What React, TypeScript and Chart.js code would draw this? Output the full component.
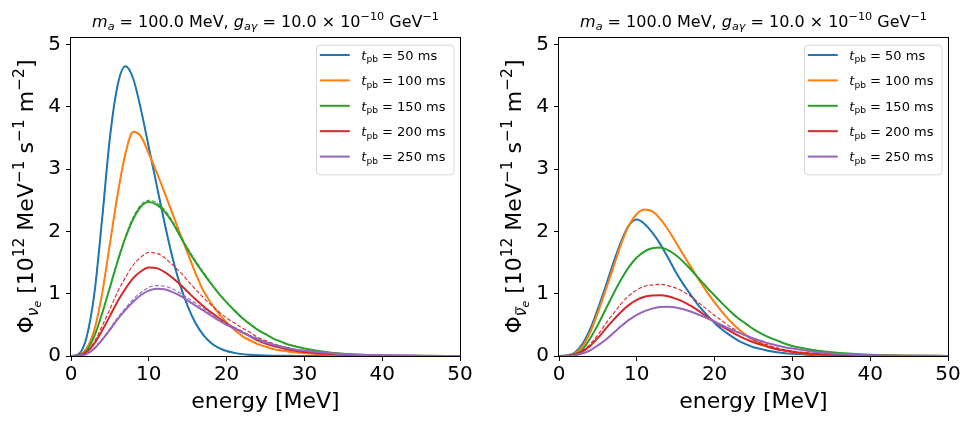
import React, { useEffect, useRef } from 'react';
import { Chart, registerables } from 'chart.js';

Chart.register(...registerables);

// Neutrino energy grid [MeV]
const energy = [0, 1, 2, 3, 4, 5, 6, 7, 8, 9, 10, 11, 12, 13, 14, 15, 16, 17, 18, 19, 20, 21, 22, 23, 24, 25, 26, 27, 28, 29, 30, 32, 35, 40, 45, 50];

// Post-bounce times [ms]
const postBounceTimes = [50, 100, 150, 200, 250];
const seriesColors = ['#1f77b4', '#ff7f0e', '#2ca02c', '#d62728', '#9467bd'];

// nu_e fluxes [1e12 MeV^-1 s^-1 m^-2], solid = with axion, dashed = reference
const nue50 = [0, 0.03, 0.3, 1.0, 2.2, 3.5, 4.35, 4.65, 4.45, 3.95, 3.35, 2.75, 2.15, 1.6, 1.15, 0.8, 0.53, 0.34, 0.21, 0.13, 0.08, 0.05, 0.03, 0.02, 0.013, 0.009, 0.006, 0.004, 0.003, 0.002, 0.001, 0.0005, 0, 0, 0, 0];
const nue100 = [0, 0.01, 0.12, 0.42, 1.0, 1.8, 2.6, 3.25, 3.6, 3.52, 3.25, 2.95, 2.63, 2.3, 1.97, 1.65, 1.33, 1.05, 0.85, 0.68, 0.54, 0.42, 0.32, 0.25, 0.19, 0.15, 0.11, 0.09, 0.07, 0.055, 0.045, 0.028, 0.013, 0.004, 0.001, 0];
const nue150 = [0, 0.01, 0.09, 0.32, 0.68, 1.1, 1.52, 1.9, 2.2, 2.4, 2.47, 2.43, 2.32, 2.15, 1.93, 1.71, 1.51, 1.33, 1.16, 1.0, 0.86, 0.73, 0.61, 0.51, 0.42, 0.35, 0.28, 0.23, 0.18, 0.15, 0.12, 0.075, 0.035, 0.01, 0.003, 0.001];
const nue150Ref = [0, 0.01, 0.09, 0.32, 0.69, 1.11, 1.54, 1.92, 2.23, 2.43, 2.5, 2.46, 2.35, 2.17, 1.95, 1.73, 1.53, 1.35, 1.17, 1.01, 0.87, 0.74, 0.62, 0.52, 0.43, 0.35, 0.28, 0.23, 0.18, 0.15, 0.12, 0.076, 0.035, 0.01, 0.003, 0.001];
const nue200 = [0, 0.01, 0.06, 0.2, 0.41, 0.64, 0.88, 1.08, 1.25, 1.36, 1.42, 1.41, 1.35, 1.26, 1.15, 1.03, 0.91, 0.8, 0.7, 0.61, 0.52, 0.45, 0.38, 0.32, 0.25, 0.2, 0.16, 0.13, 0.1, 0.08, 0.065, 0.04, 0.02, 0.006, 0.002, 0.001];
const nue200Ref = [0, 0.012, 0.07, 0.23, 0.48, 0.75, 1.03, 1.26, 1.46, 1.59, 1.66, 1.65, 1.58, 1.47, 1.35, 1.21, 1.07, 0.94, 0.82, 0.71, 0.61, 0.53, 0.45, 0.38, 0.3, 0.25, 0.2, 0.16, 0.13, 0.1, 0.08, 0.05, 0.025, 0.008, 0.002, 0.001];
const nue250 = [0, 0.005, 0.03, 0.12, 0.26, 0.42, 0.59, 0.74, 0.87, 0.98, 1.05, 1.08, 1.07, 1.03, 0.97, 0.89, 0.81, 0.73, 0.65, 0.57, 0.5, 0.44, 0.38, 0.32, 0.27, 0.22, 0.18, 0.15, 0.12, 0.1, 0.085, 0.06, 0.03, 0.012, 0.004, 0.001];
const nue250Ref = [0, 0.005, 0.03, 0.13, 0.27, 0.44, 0.62, 0.77, 0.91, 1.02, 1.1, 1.13, 1.12, 1.08, 1.01, 0.93, 0.85, 0.76, 0.68, 0.6, 0.52, 0.46, 0.4, 0.33, 0.28, 0.23, 0.19, 0.16, 0.13, 0.1, 0.09, 0.06, 0.03, 0.012, 0.004, 0.001];

// anti-nu_e fluxes
const nuebar50 = [0, 0.01, 0.05, 0.19, 0.43, 0.76, 1.12, 1.5, 1.84, 2.1, 2.19, 2.12, 1.98, 1.8, 1.58, 1.35, 1.15, 0.97, 0.8, 0.66, 0.53, 0.42, 0.33, 0.25, 0.19, 0.14, 0.11, 0.08, 0.06, 0.045, 0.035, 0.02, 0.009, 0.002, 0.0005, 0];
const nuebar100 = [0, 0.005, 0.04, 0.15, 0.38, 0.7, 1.06, 1.43, 1.8, 2.1, 2.28, 2.35, 2.32, 2.2, 2.03, 1.83, 1.62, 1.42, 1.22, 1.03, 0.86, 0.7, 0.56, 0.44, 0.34, 0.26, 0.2, 0.15, 0.11, 0.085, 0.065, 0.035, 0.015, 0.004, 0.001, 0];
const nuebar150 = [0, 0.005, 0.03, 0.1, 0.28, 0.5, 0.75, 1.0, 1.23, 1.43, 1.58, 1.68, 1.73, 1.74, 1.7, 1.62, 1.51, 1.38, 1.24, 1.1, 0.97, 0.84, 0.72, 0.61, 0.52, 0.43, 0.36, 0.3, 0.25, 0.2, 0.16, 0.11, 0.06, 0.02, 0.007, 0.002];
const nuebar200 = [0, 0.003, 0.02, 0.07, 0.16, 0.29, 0.44, 0.58, 0.71, 0.82, 0.9, 0.95, 0.97, 0.975, 0.96, 0.92, 0.87, 0.8, 0.72, 0.63, 0.55, 0.47, 0.4, 0.33, 0.27, 0.22, 0.18, 0.14, 0.11, 0.09, 0.07, 0.04, 0.02, 0.006, 0.002, 0];
const nuebar200Ref = [0, 0.004, 0.025, 0.085, 0.19, 0.34, 0.52, 0.68, 0.84, 0.97, 1.06, 1.12, 1.14, 1.15, 1.13, 1.09, 1.03, 0.95, 0.85, 0.75, 0.65, 0.56, 0.47, 0.39, 0.32, 0.26, 0.21, 0.17, 0.13, 0.1, 0.08, 0.05, 0.024, 0.007, 0.002, 0];
const nuebar250 = [0, 0.002, 0.01, 0.04, 0.09, 0.17, 0.26, 0.37, 0.48, 0.58, 0.66, 0.72, 0.76, 0.785, 0.79, 0.78, 0.75, 0.71, 0.66, 0.61, 0.55, 0.49, 0.43, 0.38, 0.33, 0.28, 0.24, 0.2, 0.17, 0.14, 0.12, 0.08, 0.04, 0.014, 0.005, 0.002];

const xTicks = { min: 0, max: 50, step: 10 };
const yTicks = { min: 0, max: 5.12, step: 1 };

const FAMILY = '"DejaVu Sans"';

type Run = { t: string; it?: boolean; k?: number; dy?: number; bar?: boolean };

function fontOf(px: number, it?: boolean) {
  return `${it ? 'italic ' : ''}${px}px ${FAMILY}`;
}

function runsWidth(ctx: CanvasRenderingContext2D, runs: Run[], size: number) {
  let w = 0;
  for (const r of runs) {
    ctx.font = fontOf(size * (r.k ?? 1), r.it);
    w += ctx.measureText(r.t).width;
  }
  return w;
}

function drawRuns(ctx: CanvasRenderingContext2D, runs: Run[], x: number, y: number, size: number) {
  let cx = x;
  ctx.textAlign = 'left';
  ctx.textBaseline = 'alphabetic';
  for (const r of runs) {
    const px = size * (r.k ?? 1);
    ctx.font = fontOf(px, r.it);
    const by = y + (r.dy ?? 0) * size;
    ctx.fillText(r.t, cx, by);
    const w = ctx.measureText(r.t).width;
    if (r.bar) {
      ctx.fillRect(cx + 0.12 * px, by - 0.68 * px, w - 0.05 * px, Math.max(1, 0.07 * px));
    }
    cx += w;
  }
}

const titleRuns: Run[] = [
  { t: 'm', it: true },
  { t: 'a', it: true, k: 0.7, dy: 0.2 },
  { t: ' = 100.0 MeV, ' },
  { t: 'g', it: true },
  { t: 'aγ', it: true, k: 0.7, dy: 0.2 },
  { t: ' = 10.0 × 10' },
  { t: '−10', k: 0.7, dy: -0.42 },
  { t: ' GeV' },
  { t: '−1', k: 0.7, dy: -0.42 },
];

function yLabelRuns(anti: boolean): Run[] {
  return [
    { t: 'Φ' },
    { t: 'ν', it: true, k: 0.7, dy: 0.22, bar: anti },
    { t: 'e', it: true, k: 0.5, dy: 0.36 },
    { t: ' [10' },
    { t: '12', k: 0.7, dy: -0.42 },
    { t: ' MeV' },
    { t: '−1', k: 0.7, dy: -0.42 },
    { t: ' s' },
    { t: '−1', k: 0.7, dy: -0.42 },
    { t: ' m' },
    { t: '−2', k: 0.7, dy: -0.42 },
    { t: ']' },
  ];
}

type PanelSpec = {
  solid: number[][];
  dashed: number[][];
  anti: boolean;
};

const panels: PanelSpec[] = [
  {
    solid: [nue50, nue100, nue150, nue200, nue250],
    dashed: [nue50, nue100, nue150Ref, nue200Ref, nue250Ref],
    anti: false,
  },
  {
    solid: [nuebar50, nuebar100, nuebar150, nuebar200, nuebar250],
    dashed: [nuebar50, nuebar100, nuebar150, nuebar200Ref, nuebar250],
    anti: true,
  },
];

function decorations(anti: boolean) {
  return {
    id: 'decorations',
    afterDraw(chart: Chart) {
      const ctx = chart.ctx;
      const { left, right, top, bottom } = chart.chartArea;
      const cxm = (left + right) / 2;
      const cym = (top + bottom) / 2;
      ctx.save();
      ctx.fillStyle = '#000';

      // axes frame
      ctx.strokeStyle = '#000';
      ctx.lineWidth = 1;
      ctx.strokeRect(Math.round(left) - 0.5, Math.round(top) + 0.5, Math.round(right - left) + 1, Math.round(bottom - top));

      // title
      const tSize = 16;
      const tw = runsWidth(ctx, titleRuns, tSize);
      drawRuns(ctx, titleRuns, cxm - tw / 2, 26.5, tSize);

      // x axis title
      ctx.font = fontOf(22);
      ctx.textAlign = 'center';
      ctx.textBaseline = 'alphabetic';
      ctx.fillText('energy [MeV]', cxm, 408);

      // y axis title
      const yr = yLabelRuns(anti);
      const ySize = 22;
      const yw = runsWidth(ctx, yr, ySize);
      ctx.save();
      ctx.translate(33, cym);
      ctx.rotate(-Math.PI / 2);
      drawRuns(ctx, yr, -yw / 2, 0, ySize);
      ctx.restore();

      // legend
      const lSize = 13;
      const boxRight = right - 6.5;
      const boxLeft = boxRight - 137.5;
      const boxTop = top + 7.7;
      const boxBottom = top + 137.3;
      ctx.beginPath();
      ctx.roundRect(boxLeft + 0.5, boxTop + 0.5, boxRight - boxLeft, boxBottom - boxTop, 3);
      ctx.fillStyle = 'rgba(255,255,255,0.8)';
      ctx.fill();
      ctx.strokeStyle = 'rgba(204,204,204,0.8)';
      ctx.stroke();
      postBounceTimes.forEach((tpb, i) => {
        const rowY = top + 18 + 25.4 * i;
        ctx.strokeStyle = seriesColors[i];
        ctx.lineWidth = 2;
        ctx.beginPath();
        ctx.moveTo(boxLeft + 3.8, rowY);
        ctx.lineTo(boxLeft + 33.8, rowY);
        ctx.stroke();
        ctx.fillStyle = '#000';
        drawRuns(
          ctx,
          [{ t: 't', it: true }, { t: 'pb', k: 0.7, dy: 0.2 }, { t: ` = ${tpb} ms` }],
          boxLeft + 45.3,
          rowY + 4.7,
          lSize,
        );
      });
      ctx.restore();
    },
  };
}

function FluxPanel({ spec, offset }: { spec: PanelSpec; offset: number }) {
  const ref = useRef<HTMLCanvasElement | null>(null);

  useEffect(() => {
    const canvas = ref.current;
    if (!canvas) return;
    const datasets: any[] = [];
    postBounceTimes.forEach((tpb, k) => {
      datasets.push({
        label: `t_pb = ${tpb} ms`,
        data: energy.map((e, i) => ({ x: e, y: spec.solid[k][i] })),
        borderColor: seriesColors[k],
        borderWidth: 2,
        pointRadius: 0,
        fill: false,
        cubicInterpolationMode: 'monotone',
        order: 100 - 2 * k,
      });
      datasets.push({
        label: `t_pb = ${tpb} ms (reference)`,
        data: energy.map((e, i) => ({ x: e, y: spec.dashed[k][i] })),
        borderColor: seriesColors[k],
        borderWidth: 1.1,
        borderDash: [4, 2],
        pointRadius: 0,
        fill: false,
        cubicInterpolationMode: 'monotone',
        order: 99 - 2 * k,
      });
    });

    const tickFont = { family: FAMILY, size: 20 };
    const chart = new Chart(canvas, {
      type: 'line',
      data: { datasets },
      options: {
        animation: false,
        responsive: false,
        maintainAspectRatio: false,
        events: [],
        layout: { padding: { left: 0, right: 28, top: 37, bottom: 0 } },
        plugins: { legend: { display: false }, tooltip: { enabled: false }, title: { display: false } },
        scales: {
          x: {
            type: 'linear',
            min: xTicks.min,
            max: xTicks.max,
            ticks: { stepSize: xTicks.step, font: tickFont, color: '#000', padding: 2, maxRotation: 0, includeBounds: false },
            grid: { drawOnChartArea: false, drawTicks: true, tickLength: 5, color: '#000', lineWidth: 1 },
            border: { display: false },
            afterFit: (s: any) => {
              s.height = 66;
            },
          },
          y: {
            type: 'linear',
            min: yTicks.min,
            max: yTicks.max,
            ticks: { stepSize: yTicks.step, font: tickFont, color: '#000', padding: 5, includeBounds: false },
            grid: { drawOnChartArea: false, drawTicks: true, tickLength: 5, color: '#000', lineWidth: 1 },
            border: { display: false },
            afterFit: (s: any) => {
              s.width = 71;
            },
          },
        },
      },
      plugins: [decorations(spec.anti)],
    });
    return () => chart.destroy();
  }, [spec]);

  return (
    <canvas
      ref={ref}
      width={488}
      height={422}
      style={{ position: 'absolute', left: offset, top: 0, width: 488, height: 422 }}
    />
  );
}

export default function App() {
  useEffect(() => {
    document.body.style.margin = '0';
  }, []);
  return (
    <div
      style={{
        position: 'fixed',
        left: 0,
        top: 0,
        width: 971,
        height: 422,
        overflow: 'hidden',
        background: '#fff',
      }}
    >
      <FluxPanel spec={panels[0]} offset={0} />
      <FluxPanel spec={panels[1]} offset={488} />
    </div>
  );
}
